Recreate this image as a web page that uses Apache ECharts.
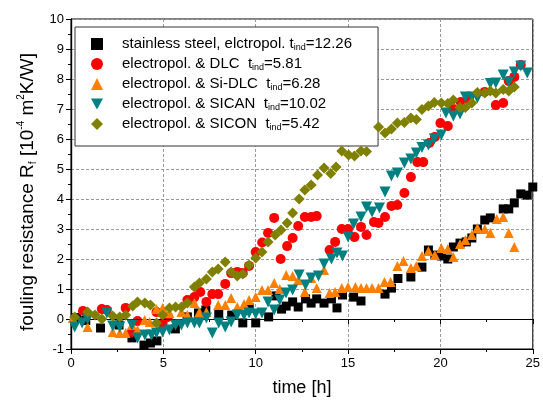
<!DOCTYPE html>
<html>
<head>
<meta charset="utf-8">
<script src="https://cdn.jsdelivr.net/npm/echarts@6/dist/echarts.min.js"></script>
<style>
  html, body { margin: 0; padding: 0; background: #fff; }
  #chart { width: 543px; height: 403px; }
</style>
</head>
<body>
<div id="chart"></div>
<script>
// fouling resistance Rf [1e-4 m2K/W] against time [h]
var steel = [[0.3,0.05],[0.8,-0.05],[1.6,-0.3],[2.6,-0.2],[3.3,-0.63],[3.95,-0.87],[4.3,-0.8],[4.65,-0.73],[5.65,-0.33],[6.3,0.07],[6.9,0.2],[7.3,0.3],[8.0,0.17],[8.7,0.13],[9.3,-0.13],[9.65,0.37],[10.0,-0.13],[10.7,0.07],[11.1,0.77],[11.4,0.33],[11.65,0.43],[12.0,0.57],[12.3,0.4],[12.7,0.67],[13.0,0.53],[13.3,0.67],[13.7,0.53],[14.1,0.67],[14.4,0.37],[14.7,0.8],[15.3,0.73],[15.7,0.6],[17.0,0.83],[17.35,1.03],[17.7,1.35],[18.4,1.4],[19.0,1.73],[19.35,2.3],[19.7,2.13],[20.05,2.1],[20.4,2.0],[20.7,2.4],[21.06,2.53],[21.4,2.57],[21.7,2.7],[22.0,3.0],[22.4,3.3],[22.7,3.37],[23.4,3.67],[23.7,3.67],[24.0,3.87],[24.35,4.17],[24.7,4.13],[25.0,4.4]];
var dlc = [[0.65,0.27],[1.67,0.33],[1.94,0.3],[2.96,0.37],[3.3,-0.43],[3.6,-0.07],[4.63,0.23],[4.96,-0.13],[5.25,0.07],[6.3,0.63],[6.68,0.73],[7.0,0.9],[7.33,0.57],[7.65,0.83],[7.97,0.83],[8.35,1.17],[8.67,1.53],[9.0,1.57],[9.3,1.53],[9.64,1.77],[10.0,2.23],[10.35,2.55],[10.67,2.87],[11.0,3.37],[11.35,2.0],[11.7,2.43],[12.0,2.7],[12.3,3.1],[12.66,3.4],[13.0,3.4],[13.3,3.43],[14.0,2.3],[14.3,2.57],[14.66,3.0],[15.0,3.0],[15.35,2.73],[15.7,3.07],[16.0,2.8],[16.4,3.23],[16.65,3.2],[17.0,3.4],[17.35,3.77],[17.67,3.8],[18.05,4.2],[18.4,4.73],[18.75,5.23],[19.07,5.23],[19.4,5.87],[19.7,6.07],[20.0,6.53],[20.4,6.43],[20.7,7.0],[21.1,7.23],[21.55,7.3],[22.4,7.57],[23.0,7.13],[23.4,7.2],[23.7,7.93],[24.0,8.07],[24.35,8.47]];
var sidlc = [[0.1,0.03],[0.9,-0.27],[2.26,-0.43],[2.64,-0.47],[2.96,-0.47],[3.3,-0.2],[3.6,-0.37],[3.99,-0.03],[4.26,-0.1],[4.63,0.33],[4.96,0.37],[5.33,0.2],[5.98,0.23],[6.3,0.13],[6.68,0.53],[6.95,0.23],[7.33,0.23],[7.97,0.47],[8.35,0.47],[8.67,0.7],[9.0,0.4],[9.37,0.5],[9.64,0.63],[10.0,0.73],[10.34,0.97],[10.67,0.97],[11.0,1.2],[11.3,1.0],[11.65,1.47],[12.0,1.43],[12.3,1.3],[12.66,0.9],[13.0,1.37],[13.3,1.03],[13.7,1.63],[14.0,0.87],[14.3,0.9],[14.66,1.03],[15.0,1.07],[15.4,1.07],[15.7,1.03],[16.0,1.03],[16.3,1.03],[16.65,1.03],[16.97,1.23],[17.3,1.23],[17.67,1.77],[18.0,1.93],[18.4,1.7],[18.7,1.77],[19.0,2.1],[19.35,2.27],[19.7,2.13],[20.05,2.37],[20.4,2.33],[20.7,2.07],[21.06,2.5],[21.35,2.63],[21.7,2.8],[22.0,3.03],[22.4,3.0],[22.7,2.87],[23.05,3.33],[23.4,3.4],[23.7,2.87],[24.0,2.4]];
var sican = [[0.2,-0.27],[0.6,-0.13],[0.9,0.0],[1.94,0.2],[2.26,-0.23],[2.64,-0.27],[3.3,-0.2],[3.6,-0.63],[4.0,-0.53],[4.36,-0.53],[4.63,-0.47],[4.96,-0.43],[5.33,-0.37],[5.66,-0.2],[5.98,-0.2],[6.3,-0.13],[6.68,-0.13],[6.95,-0.13],[7.33,0.03],[7.65,-0.47],[8.0,-0.13],[8.35,-0.27],[8.67,-0.1],[9.0,0.13],[9.37,0.13],[9.64,0.2],[10.0,0.17],[10.34,0.2],[10.67,0.57],[11.0,0.3],[11.3,0.63],[11.64,0.87],[12.0,0.97],[12.35,1.47],[12.7,1.13],[13.0,1.37],[13.4,1.43],[13.7,1.83],[14.1,2.0],[14.4,2.2],[14.7,2.1],[15.0,2.73],[15.3,3.17],[15.7,3.4],[16.0,3.73],[16.3,3.57],[16.7,3.7],[17.0,4.23],[17.35,4.77],[17.67,4.87],[18.05,5.2],[18.4,5.33],[18.7,5.53],[19.0,5.72],[19.35,5.8],[19.67,6.0],[20.05,6.13],[20.3,6.87],[20.7,6.77],[21.06,6.83],[21.35,7.4],[21.7,7.4],[22.0,7.37],[22.7,7.85],[23.0,7.87],[23.4,8.13],[23.7,7.9],[24.0,8.23],[24.35,8.43],[24.7,8.2]];
var sicon = [[0.2,0.07],[0.9,0.23],[1.3,0.13],[1.67,0.0],[2.26,0.1],[2.64,0.07],[2.96,0.13],[3.34,0.43],[3.6,0.57],[4.0,0.53],[4.3,0.47],[4.63,-0.13],[4.96,0.13],[5.33,0.37],[5.66,0.4],[5.98,0.4],[6.3,0.53],[6.68,1.07],[6.95,1.2],[7.33,1.33],[7.65,1.57],[7.97,1.67],[8.35,1.9],[8.67,1.57],[9.0,1.43],[9.3,1.5],[9.64,1.8],[10.0,2.03],[10.34,2.23],[10.67,2.57],[11.05,2.8],[11.37,2.97],[11.7,3.2],[12.0,3.53],[12.35,4.0],[12.66,4.3],[13.0,4.47],[13.35,4.8],[13.7,5.03],[14.06,4.85],[14.35,5.07],[14.66,5.6],[15.03,5.47],[15.35,5.43],[15.7,5.6],[16.0,5.58],[16.65,6.4],[17.0,6.2],[17.35,6.33],[17.67,6.53],[18.05,6.55],[18.4,6.7],[18.7,6.65],[19.0,6.98],[19.35,7.1],[19.67,7.22],[20.05,7.2],[20.4,7.18],[20.7,7.3],[21.06,7.05],[21.35,7.05],[21.7,7.2],[22.0,7.55],[22.4,7.53],[22.7,7.6],[23.0,7.53],[23.4,7.65],[23.7,7.6],[24.0,7.73]];

var names = ['steel', 'DLC', 'Si-DLC', 'SICAN', 'SICON'];
var labels = [
    'stainless steel, elctropol. t{s|ind}=12.26',
    'electropol. & DLC  t{s|ind}=5.81',
    'electropol. & Si-DLC  t{s|ind}=6.28',
    'electropol. & SICAN  t{s|ind}=10.02',
    'electropol. & SICON  t{s|ind}=5.42'
];
var colors = ['#000000', '#ff0000', '#ff8000', '#008080', '#808000'];
var symbols = ['rect', 'circle', 'triangle', 'path://M0,0 L10,0 L5,9 Z', 'diamond'];
var sizes = [9, 10, 10, 11, 11];
var allData = [steel, dlc, sidlc, sican, sicon];

var font = 'Liberation Sans, Arial, sans-serif';

var series = [];
for (var i = 0; i < names.length; i++) {
    series.push({
        name: names[i],
        type: 'scatter',
        data: allData[i],
        symbol: symbols[i],
        symbolSize: sizes[i],
        itemStyle: { color: colors[i], opacity: 1 },
        z: 3 + i
    });
}
// zero line
series[0].markLine = {
    silent: true,
    symbol: 'none',
    label: { show: false },
    lineStyle: { color: '#000', type: 'solid', width: 1.2 },
    data: [{ yAxis: 0 }]
};

var chart = echarts.init(document.getElementById('chart'));
chart.setOption({
    animation: false,
    backgroundColor: '#fff',
    grid: { left: 71, right: 8, top: 19, bottom: 54, show: true, borderColor: '#000', borderWidth: 1, backgroundColor: 'transparent' },
    legend: {
        left: 75, top: 27,
        orient: 'vertical',
        width: 300,
        padding: [9, 26, 14, 16],
        itemGap: 4,
        itemWidth: 12, itemHeight: 12,
        backgroundColor: '#fff',
        borderColor: '#333',
        borderWidth: 1,
        data: names,
        formatter: function (n) { return labels[names.indexOf(n)]; },
        textStyle: {
            fontFamily: font, fontSize: 15, color: '#000', padding: [0, 0, 0, 14], lineHeight: 16,
            rich: { s: { fontSize: 9, fontFamily: font, verticalAlign: 'bottom', lineHeight: 10, padding: [7, 0, 0, 0] } }
        }
    },
    xAxis: [{
        type: 'value', min: 0, max: 25, interval: 5,
        name: 'time [h]', nameLocation: 'middle', nameGap: 30,
        nameTextStyle: { fontFamily: font, fontSize: 18, color: '#000' },
        axisLine: { onZero: false, lineStyle: { color: '#000', width: 1.2 } },
        axisTick: { length: 5, lineStyle: { color: '#000' } },
        minorTick: { show: true, splitNumber: 2, length: 3, lineStyle: { color: '#000' } },
        axisLabel: { fontFamily: font, fontSize: 13, color: '#000', margin: 8 },
        splitLine: { show: true, lineStyle: { color: '#999', type: [3, 2], width: 1 } }
    }, {
        type: 'value', min: 0, max: 25, interval: 5, position: 'top',
        axisLine: { lineStyle: { color: '#000' } },
        axisTick: { inside: true, length: 5, lineStyle: { color: '#000' } },
        minorTick: { show: true, splitNumber: 2, length: 3, lineStyle: { color: '#000' } },
        axisLabel: { show: false },
        splitLine: { show: false }
    }],
    yAxis: [{
        type: 'value', min: -1, max: 10, interval: 1,
        name: 'fouling resistance R{sub|f} [10{sup|-4} m{sup|2}K/W]',
        nameLocation: 'middle', nameGap: 29, nameRotate: 90,
        nameTextStyle: {
            fontFamily: font, fontSize: 19, color: '#000', lineHeight: 22, padding: [0, 16, 0, 0],
            rich: {
                sub: { fontFamily: font, fontSize: 10, verticalAlign: 'bottom', lineHeight: 12 },
                sup: { fontFamily: font, fontSize: 10, verticalAlign: 'top', lineHeight: 12 }
            }
        },
        axisLine: { onZero: false, lineStyle: { color: '#000', width: 1.2 } },
        axisTick: { length: 5, lineStyle: { color: '#000' } },
        minorTick: { show: true, splitNumber: 2, length: 3, lineStyle: { color: '#000' } },
        axisLabel: { fontFamily: font, fontSize: 13, color: '#000', margin: 7 },
        splitLine: { show: true, lineStyle: { color: '#999', type: [3, 2], width: 1 } }
    }, {
        type: 'value', min: -1, max: 10, interval: 1, position: 'right',
        axisLine: { show: true, lineStyle: { color: '#000', width: 1.2 } },
        axisTick: { show: true, inside: true, length: 5, lineStyle: { color: '#000' } },
        minorTick: { show: true, splitNumber: 2, length: 3, lineStyle: { color: '#000' } },
        axisLabel: { show: false },
        splitLine: { show: false }
    }],
    series: series
});
</script>
</body>
</html>
